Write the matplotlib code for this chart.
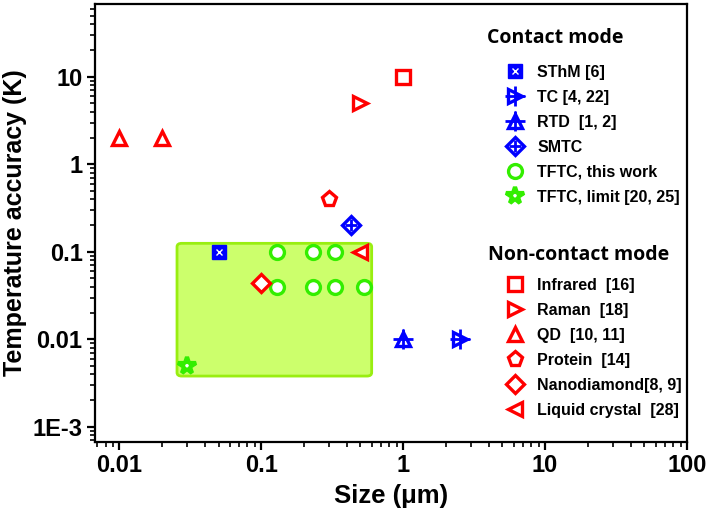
import matplotlib
matplotlib.use('Agg')
import matplotlib.pyplot as plt
from matplotlib.patches import FancyBboxPatch
from matplotlib.ticker import FixedLocator, FixedFormatter, LogLocator, NullFormatter

# ---- data (size in um, accuracy in K) ----
sthm_x, sthm_y = [0.05], [0.1]
tc_x, tc_y = [2.5], [0.01]
rtd_x, rtd_y = [1.0], [0.01]
smtc_x, smtc_y = [0.43], [0.2]
tftc_x = [0.13, 0.23, 0.33, 0.13, 0.23, 0.33, 0.53]
tftc_y = [0.1, 0.1, 0.1, 0.04, 0.04, 0.04, 0.04]
limit_x, limit_y = [0.03], [0.005]

infrared_x, infrared_y = [1.0], [10]
raman_x, raman_y = [0.5], [5]
qd_x, qd_y = [0.01, 0.02], [2, 2]
protein_x, protein_y = [0.3], [0.4]
nano_x, nano_y = [0.1], [0.044]
lc_x, lc_y = [0.5], [0.1]

region_x = (0.0255, 0.6)
region_y = (0.0038, 0.125)

x_ticks = [0.01, 0.1, 1, 10, 100]
x_labels = ['0.01', '0.1', '1', '10', '100']
y_ticks = [0.001, 0.01, 0.1, 1, 10]
y_labels = ['1E-3', '0.01', '0.1', '1', '10']

BLUE = '#0000ff'
RED = '#ff0000'
GREEN = '#33ee00'

plt.rcParams['font.family'] = ['Liberation Sans', 'DejaVu Sans']
plt.rcParams['font.weight'] = 'bold'

fig = plt.figure(figsize=(7.09, 5.18), dpi=100)
ax = fig.add_axes([95 / 709, 76 / 518, 592 / 709, 438 / 518])
ax.set_xscale('log')
ax.set_yscale('log')
ax.set_xlim(0.00674, 100)
ax.set_ylim(6.7e-4, 68)

ms = 10
mew = 2.4

def opn(color, size=ms):
    return dict(ls='none', ms=size, mew=mew, mec=color, mfc='white')

# contact mode
h1a, = ax.plot(sthm_x, sthm_y, ls='none', marker='s', ms=ms, mfc=BLUE, mec=BLUE, mew=1, zorder=3)
h1b, = ax.plot(sthm_x, sthm_y, ls='none', marker='x', ms=4, mec='white', mew=1, zorder=4)
h2a, = ax.plot(tc_x, tc_y, marker='>', zorder=3, **opn(BLUE))
h2b, = ax.plot(tc_x, tc_y, ls='none', marker='+', ms=14, mec=BLUE, mew=2, zorder=4)
h3a, = ax.plot(rtd_x, rtd_y, marker='^', zorder=3, **opn(BLUE))
h3b, = ax.plot(rtd_x, rtd_y, ls='none', marker='+', ms=14, mec=BLUE, mew=2, zorder=4)
h4a, = ax.plot(smtc_x, smtc_y, marker='D', zorder=3, **opn(BLUE, 9))
h4b, = ax.plot(smtc_x, smtc_y, ls='none', marker='+', ms=9, mec=BLUE, mew=2, zorder=4)
h5, = ax.plot(tftc_x, tftc_y, marker='o', zorder=3, **opn(GREEN))
h6, = ax.plot(limit_x, limit_y, ls='none', marker='*', ms=13, mfc='white', mec=GREEN, mew=3, zorder=3)

# non-contact mode
n1, = ax.plot(infrared_x, infrared_y, marker='s', zorder=3, **opn(RED))
n2, = ax.plot(raman_x, raman_y, marker='>', zorder=3, **opn(RED))
n3, = ax.plot(qd_x, qd_y, marker='^', zorder=3, **opn(RED))
n4, = ax.plot(protein_x, protein_y, marker='p', zorder=3, **opn(RED, 11))
n5, = ax.plot(nano_x, nano_y, marker='D', zorder=3, **opn(RED, 9))
n6, = ax.plot(lc_x, lc_y, marker='<', zorder=3, **opn(RED))

# shaded region (rounded box)
to_ax = ax.transData + ax.transAxes.inverted()
(ax0, ay0) = to_ax.transform((region_x[0], region_y[0]))
(ax1, ay1) = to_ax.transform((region_x[1], region_y[1]))
box = FancyBboxPatch((ax0, ay0), ax1 - ax0, ay1 - ay0,
                     boxstyle='round,pad=0,rounding_size=0.008',
                     transform=ax.transAxes, fc='#ccff6c', ec='#99ee11', lw=2, zorder=1)
ax.add_patch(box)

# axes styling
for s in ax.spines.values():
    s.set_linewidth(1.6)
ax.xaxis.set_major_locator(FixedLocator(x_ticks))
ax.xaxis.set_major_formatter(FixedFormatter(x_labels))
ax.yaxis.set_major_locator(FixedLocator(y_ticks))
ax.yaxis.set_major_formatter(FixedFormatter(y_labels))
ax.xaxis.set_minor_locator(LogLocator(base=10, subs=range(2, 10), numticks=20))
ax.yaxis.set_minor_locator(LogLocator(base=10, subs=range(2, 10), numticks=20))
ax.xaxis.set_minor_formatter(NullFormatter())
ax.yaxis.set_minor_formatter(NullFormatter())
ax.tick_params(which='major', direction='out', length=6, width=1.6, labelsize=17, pad=3)
ax.tick_params(which='minor', direction='out', length=3.5, width=1.2)
ax.set_xlabel('Size (\u03bcm)', fontsize=18.5, fontweight='bold', labelpad=5)
ax.set_ylabel('Temperature accuracy (K)', fontsize=18, fontweight='bold', labelpad=4)

# legends
leg_kw = dict(frameon=False, loc='upper left', borderpad=0, borderaxespad=0,
              handlelength=2.0, handletextpad=0.4, labelspacing=0.62,
              prop=dict(family='Liberation Sans', weight='bold', size=11.5),
              bbox_transform=fig.transFigure)
leg1 = ax.legend([(h1a, h1b), (h2a, h2b), (h3a, h3b), (h4a, h4b), h5, h6],
                 ['SThM [6]', 'TC [4, 22]', 'RTD  [1, 2]', 'SMTC', 'TFTC, this work', 'TFTC, limit [20, 25]'],
                 bbox_to_anchor=(499 / 709, 1 - 65 / 518), **leg_kw)
ax.add_artist(leg1)
leg2 = ax.legend([n1, n2, n3, n4, n5, n6],
                 ['Infrared  [16]', 'Raman  [18]', 'QD  [10, 11]', 'Protein  [14]',
                  'Nanodiamond[8, 9]', 'Liquid crystal  [28]'],
                 bbox_to_anchor=(499 / 709, 1 - 278 / 518), **leg_kw)

fig.text(487 / 709, 1 - 38 / 518, 'Contact mode', family='Open Sans', weight='bold',
         fontsize=14, va='center', ha='left')
fig.text(488 / 709, 1 - 255 / 518, 'Non-contact mode', family='Open Sans', weight='bold',
         fontsize=14, va='center', ha='left')

fig.savefig('out.png', dpi=100)
